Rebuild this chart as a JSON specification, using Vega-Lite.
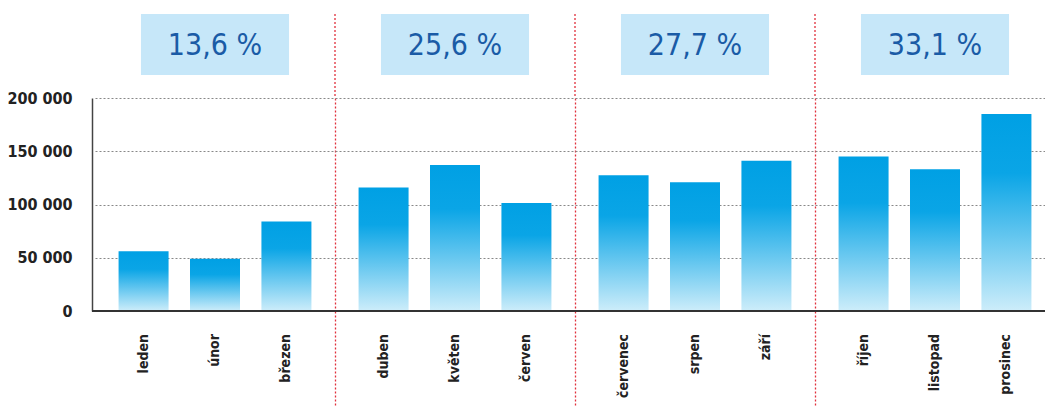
{
  "$schema": "https://vega.github.io/schema/vega-lite/v6.json",
  "padding": {"left": 6, "top": 13, "right": 0, "bottom": 0},
  "spacing": 0,
  "bounds": "flush",
  "config": {
    "view": {"stroke": null},
    "font": "DejaVu Sans Condensed"
  },
  "datasets": {
    "months": [
      {"month": "leden", "group": "Q1", "pos": "1", "value": 56000},
      {"month": "únor", "group": "Q1", "pos": "2", "value": 49000},
      {"month": "březen", "group": "Q1", "pos": "3", "value": 84000},
      {"month": "duben", "group": "Q2", "pos": "1", "value": 116000},
      {"month": "květen", "group": "Q2", "pos": "2", "value": 137000},
      {"month": "červen", "group": "Q2", "pos": "3", "value": 101500},
      {"month": "červenec", "group": "Q3", "pos": "1", "value": 127500},
      {"month": "srpen", "group": "Q3", "pos": "2", "value": 121000},
      {"month": "září", "group": "Q3", "pos": "3", "value": 141000},
      {"month": "říjen", "group": "Q4", "pos": "1", "value": 145000},
      {"month": "listopad", "group": "Q4", "pos": "2", "value": 133000},
      {"month": "prosinec", "group": "Q4", "pos": "3", "value": 185000}
    ],
    "groups": [
      {"group": "Q1", "pct": "13,6 %"},
      {"group": "Q2", "pct": "25,6 %"},
      {"group": "Q3", "pct": "27,7 %"},
      {"group": "Q4", "pct": "33,1 %"}
    ]
  },
  "vconcat": [
    {
      "width": 953,
      "height": 84,
      "data": {"name": "groups"},
      "layer": [
        {
          "mark": {"type": "bar", "color": "#c6e7f9", "width": {"band": 0.617}},
          "encoding": {
            "x": {"field": "group", "type": "nominal", "sort": null, "axis": null,
                  "scale": {"range": [3, 963], "paddingInner": 0, "paddingOuter": 0}},
            "y": {"datum": "box", "type": "nominal", "axis": null,
                  "scale": {"domain": ["box"], "paddingInner": 0, "paddingOuter": 0.1885, "align": 0}}
          }
        },
        {
          "mark": {"type": "text", "color": "#1a5ba6", "fontSize": 30, "baseline": "middle", "dy": 1},
          "encoding": {
            "x": {"field": "group", "type": "nominal", "sort": null},
            "y": {"datum": "box", "type": "nominal"},
            "text": {"field": "pct"}
          }
        },
        {
          "transform": [{"filter": "datum.group !== 'Q1'"}],
          "mark": {"type": "rule", "color": "#e0303c", "strokeDash": [2, 2], "strokeWidth": 1.3},
          "encoding": {
            "x": {"field": "group", "type": "nominal", "sort": null, "bandPosition": 0}
          }
        }
      ]
    },
    {
      "width": 953,
      "height": 213,
      "data": {"name": "months"},
      "layer": [
        {
          "mark": {
            "type": "bar",
            "color": {
              "gradient": "linear", "x1": 0, "y1": 0, "x2": 0, "y2": 1,
              "stops": [
                {"offset": 0, "color": "#00a0e4"},
                {"offset": 0.3, "color": "#0aa5e6"},
                {"offset": 1, "color": "#cdedfa"}
              ]
            }
          },
          "encoding": {
            "x": {
              "field": "group", "type": "nominal", "sort": null,
              "scale": {"range": [3, 963], "paddingInner": 0, "paddingOuter": 0},
              "axis": {
                "title": null, "labels": false, "domain": false,
                "values": ["Q2", "Q3", "Q4"], "bandPosition": 0,
                "ticks": true, "tickColor": "#e0303c", "tickDash": [2, 2], "tickSize": 97, "tickWidth": 1.3,
                "grid": true, "gridColor": "#e0303c", "gridDash": [2, 2], "gridWidth": 1.3, "gridOpacity": 1
              }
            },
            "xOffset": {
              "field": "pos", "type": "nominal",
              "scale": {"paddingInner": 0.3, "paddingOuter": 0.33}
            },
            "y": {
              "field": "value", "type": "quantitative",
              "scale": {"domain": [0, 200000], "nice": false},
              "axis": {
                "title": null, "values": [0, 50000, 100000, 150000, 200000],
                "labelExpr": "replace(format(datum.value, ','), ',', ' ')",
                "labelFontWeight": "bold", "labelFontSize": 16, "labelColor": "#222",
                "labelPadding": 20, "ticks": false,
                "domain": true, "domainColor": "#444", "domainWidth": 1.5,
                "grid": true, "gridColor": "#888", "gridDash": [2, 2], "gridWidth": 1
              }
            }
          }
        },
        {
          "mark": {"type": "rule", "color": "#333", "strokeWidth": 2},
          "encoding": {"y": {"datum": 0}}
        },
        {
          "mark": {"type": "text", "angle": 270, "align": "right", "baseline": "middle", "dx": -23,
                   "fontWeight": "bold", "fontSize": 14, "color": "#222"},
          "encoding": {
            "x": {"field": "group", "type": "nominal", "sort": null},
            "xOffset": {"field": "pos", "type": "nominal"},
            "y": {"datum": 0},
            "text": {"field": "month"}
          }
        }
      ]
    }
  ]
}
